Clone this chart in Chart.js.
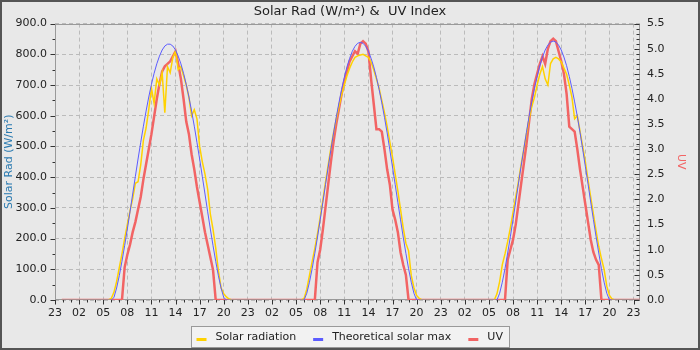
<!DOCTYPE html>
<html lang="en">
<head>
<meta charset="UTF-8">
<title>Solar Rad &amp; UV Index</title>
<script src="https://cdn.jsdelivr.net/npm/chart.js@4/dist/chart.umd.min.js"></script>
<style>
  body { margin: 0; background: #e8e8e8; }
  canvas { display: block; }
</style>
</head>
<body>
<canvas id="solarChart" width="700" height="350"></canvas>
<script>
// readings every 20 min from 05:40 to 21:20 on each of the three days
const sampleStart = 5 + 40 / 60;
const sampleStep = 20 / 60;
// axis runs in hours after 23:00 of the first evening
const firstHour = 0.85;
const lastHour = 72.8;

const solarDay1 = [0, 5, 25, 60, 105, 150, 200, 245, 290, 330, 380, 385, 440, 520, 560, 620, 690, 640, 720, 700, 740, 610, 760, 740,
                   790, 810, 750, 760, 730, 700, 660, 600, 620, 590, 500, 450, 410, 360, 280, 230, 170, 95, 40, 20, 10, 3, 0, 0];
const solarDay2 = [0, 5, 35, 80, 125, 168, 215, 268, 325, 385, 440, 495, 545, 590, 630, 668, 700, 730, 755, 775, 790, 795, 798, 800,
                   795, 790, 775, 750, 720, 690, 650, 610, 565, 515, 465, 410, 355, 295, 235, 185, 160, 80, 40, 15, 5, 0, 0, 0];
const solarDay3 = [0, 20, 60, 115, 150, 190, 235, 285, 335, 385, 440, 490, 540, 590, 630, 660, 700, 735, 760, 720, 700, 770, 785, 790,
                   785, 775, 755, 735, 700, 660, 590, 600, 550, 500, 450, 390, 335, 280, 225, 175, 135, 100, 45, 15, 3, 0, 0, 0];

const theoDay1 = [0, 0, 8, 39, 79, 126, 177, 231, 287, 345, 402, 459, 513, 566, 615, 661, 702, 738, 769, 794, 814, 827, 833, 833,
                  827, 814, 794, 769, 738, 702, 661, 615, 566, 513, 459, 402, 345, 287, 231, 177, 126, 79, 39, 8, 0, 0, 0, 0];
const theoDay2 = [0, 0, 22, 58, 102, 152, 205, 261, 318, 376, 433, 489, 544, 595, 642, 686, 725, 759, 787, 810, 826, 836, 839, 836,
                  826, 810, 787, 759, 725, 686, 642, 595, 544, 489, 433, 376, 318, 261, 205, 152, 102, 58, 22, 0, 0, 0, 0, 0];
const theoDay3 = [0, 0, 22, 58, 102, 153, 206, 262, 319, 378, 435, 491, 546, 598, 645, 689, 728, 763, 791, 814, 830, 840, 843, 840,
                  830, 814, 791, 763, 728, 689, 645, 598, 546, 491, 435, 378, 319, 262, 206, 153, 102, 58, 22, 0, 0, 0, 0, 0];

const uvDay1 = [0, 0, 0, 0, 0, 0, 0.65, 0.9, 1.1, 1.35, 1.55, 1.8, 2.05, 2.4, 2.7, 3.0, 3.3, 3.65, 4.0, 4.3, 4.55, 4.65, 4.7, 4.75,
                4.85, 4.95, 4.7, 4.4, 4.0, 3.55, 3.3, 2.9, 2.6, 2.25, 1.95, 1.65, 1.35, 1.1, 0.85, 0.6, 0, 0, 0, 0, 0, 0, 0, 0];
const uvDay2 = [0, 0, 0, 0, 0, 0, 0.75, 1.0, 1.4, 1.85, 2.3, 2.75, 3.15, 3.5, 3.8, 4.1, 4.35, 4.55, 4.75, 4.85, 4.95, 4.9, 5.1, 5.15,
                5.1, 4.95, 4.4, 3.9, 3.4, 3.4, 3.35, 3.0, 2.6, 2.3, 1.8, 1.6, 1.35, 0.95, 0.7, 0.5, 0, 0, 0, 0, 0, 0, 0, 0];
const uvDay3 = [0, 0, 0, 0, 0, 0.8, 1.0, 1.2, 1.5, 1.9, 2.3, 2.7, 3.1, 3.55, 4.0, 4.3, 4.5, 4.7, 4.85, 4.7, 5.0, 5.15, 5.2, 5.15,
                4.95, 4.75, 4.5, 4.1, 3.45, 3.4, 3.35, 3.0, 2.6, 2.25, 1.9, 1.55, 1.2, 0.95, 0.8, 0.7, 0, 0, 0, 0, 0, 0, 0, 0];

function toPoints(days) {
    const pts = [{x: firstHour, y: 0}];
    days.forEach(function(vals, d) {
        vals.forEach(function(v, i) {
            pts.push({x: d * 24 + 1 + sampleStart + i * sampleStep, y: v});
        });
    });
    pts.push({x: lastHour, y: 0});
    return pts;
}

function hourLabel(v) {
    return String((23 + v) % 24).padStart(2, '0');
}

function frameEdges(chart) {
    const a = chart.chartArea;
    return {
        L: Math.round(a.left) + 0.5, R: Math.round(a.right) - 0.5,
        T: Math.round(a.top) + 0.5, B: Math.round(a.bottom) - 0.5
    };
}

// frame, tick marks and the boxed legend
const decor = {
    id: 'decor',
    beforeDraw(chart) {
        const ctx = chart.ctx;
        ctx.save();
        ctx.fillStyle = '#e8e8e8';
        ctx.fillRect(0, 0, chart.width, chart.height);
        ctx.restore();
    },
    beforeDatasetsDraw(chart) {
        const ctx = chart.ctx;
        const {L, R, T, B} = frameEdges(chart);
        ctx.save();
        ctx.lineWidth = 1;
        ctx.strokeStyle = '#999';
        ctx.strokeRect(L, T, R - L, B - T);
        ctx.restore();
    },
    afterDraw(chart) {
        const ctx = chart.ctx;
        const xs = chart.scales.x, yl = chart.scales.y, yr = chart.scales.y1;
        const {L, R, B} = frameEdges(chart);
        ctx.save();
        ctx.lineWidth = 1;
        ctx.strokeStyle = '#333';
        ctx.beginPath();
        for (let h = 0; h <= 72; h++) {
            const px = Math.round(xs.getPixelForValue(h)) + 0.5;
            ctx.moveTo(px, B + 0.5);
            ctx.lineTo(px, B + (h % 3 === 0 ? 5 : 3));
        }
        for (let v = 0; v <= 900; v += 50) {
            const py = Math.round(yl.getPixelForValue(v)) + 0.5;
            ctx.moveTo(L - 0.5, py);
            ctx.lineTo(L - (v % 100 === 0 ? 5 : 3), py);
        }
        // UV ticks point into the plot
        for (let k = 0; k <= 55; k++) {
            const py = Math.round(yr.getPixelForValue(k / 10)) + 0.5;
            ctx.moveTo(R, py);
            ctx.lineTo(R - (k % 5 === 0 ? 5 : 3), py);
        }
        ctx.stroke();

        // legend
        const ds = chart.data.datasets;
        ctx.font = '11px "DejaVu Sans"';
        const swatchW = 10, textGap = 9, itemGap = 17;
        const widths = ds.map(d => ctx.measureText(d.label).width);
        const total = widths.reduce((s, w) => s + swatchW + textGap + w, 0) + itemGap * (ds.length - 1);
        const boxL = Math.round(chart.width / 2 - total / 2 - 6) + 0.5;
        const boxW = Math.round(total + 12);
        ctx.fillStyle = '#f2f2f2';
        ctx.fillRect(boxL, 326.5, boxW, 21);
        ctx.strokeStyle = '#999';
        ctx.strokeRect(boxL, 326.5, boxW, 21);
        let xPos = boxL + 5;
        ctx.textBaseline = 'middle';
        ds.forEach(function(d, i) {
            ctx.fillStyle = d.borderColor;
            ctx.fillRect(xPos, 338, swatchW, 3);
            ctx.fillStyle = '#222';
            ctx.fillText(d.label, xPos + swatchW + textGap, 337.5);
            xPos += swatchW + textGap + widths[i] + itemGap;
        });

        ctx.strokeStyle = '#555';
        ctx.lineWidth = 2;
        ctx.strokeRect(1, 1, chart.width - 2, chart.height - 2);
        ctx.restore();
    }
};

Chart.defaults.font.family = '"DejaVu Sans", sans-serif';
Chart.defaults.font.size = 11;
Chart.defaults.color = '#222';

new Chart(document.getElementById('solarChart'), {
    type: 'line',
    data: {
        datasets: [
            {
                label: 'Solar radiation',
                data: toPoints([solarDay1, solarDay2, solarDay3]),
                borderColor: '#ffd200',
                borderWidth: 1.5,
                yAxisID: 'y',
                order: 2
            },
            {
                label: 'Theoretical solar max',
                data: toPoints([theoDay1, theoDay2, theoDay3]),
                borderColor: '#5c5cff',
                borderWidth: 1,
                yAxisID: 'y',
                order: 1
            },
            {
                label: 'UV',
                data: toPoints([uvDay1, uvDay2, uvDay3]),
                borderColor: '#f26464',
                borderWidth: 2.5,
                yAxisID: 'y1',
                order: 3
            }
        ]
    },
    options: {
        responsive: false,
        animation: false,
        layout: { padding: { left: 0, right: 0, top: 0, bottom: 28 } },
        elements: {
            point: { radius: 0 },
            line: { tension: 0, fill: false, borderJoinStyle: 'miter' }
        },
        plugins: {
            legend: { display: false },
            tooltip: { enabled: false },
            title: {
                display: true,
                text: 'Solar Rad (W/m²) &  UV Index',
                color: '#222',
                font: { size: 13, weight: 'normal' },
                padding: { top: 4, bottom: 4 }
            }
        },
        scales: {
            x: {
                type: 'linear',
                min: 0,
                max: lastHour,
                afterFit(s) { s.height = 22; },
                grid: {
                    color: c => (c.tick && c.tick.value % 3 === 0) ? '#bbbbbb' : 'rgba(0,0,0,0)',
                    drawTicks: false
                },
                border: { display: false, dash: [4, 3] },
                ticks: {
                    stepSize: 1,
                    autoSkip: false,
                    maxRotation: 0,
                    includeBounds: false,
                    padding: 7,
                    callback: v => v % 3 === 0 ? hourLabel(v) : ''
                }
            },
            y: {
                position: 'left',
                min: 0,
                max: 900,
                afterFit(s) { s.width = 55; },
                grid: { color: '#bbbbbb', drawTicks: false },
                border: { display: false, dash: [4, 3] },
                ticks: { stepSize: 100, padding: 8, callback: v => v.toFixed(1) },
                title: {
                    display: true,
                    text: 'Solar Rad (W/m²)',
                    color: '#2a7ab0',
                    font: { size: 11 },
                    padding: { top: 3, bottom: 0 }
                }
            },
            y1: {
                position: 'right',
                min: 0,
                max: 5.5,
                afterFit(s) { s.width = 60; },
                grid: { drawOnChartArea: false, drawTicks: false },
                border: { display: false },
                ticks: { stepSize: 0.5, padding: 7, callback: v => v.toFixed(1) },
                title: {
                    display: true,
                    text: 'UV',
                    color: '#f26464',
                    font: { size: 11 },
                    padding: { top: 13, bottom: 0 }
                }
            }
        }
    },
    plugins: [decor]
});
</script>
</body>
</html>
